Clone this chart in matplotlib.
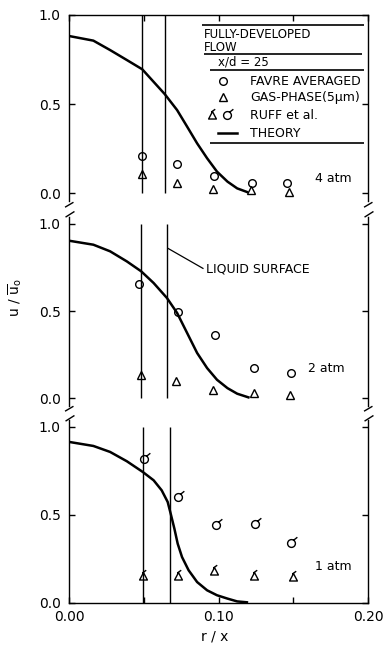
import matplotlib
matplotlib.use("Agg")
import matplotlib.pyplot as plt
from matplotlib.path import Path

# ---- data (r/x vs u/u0) ----
panel_labels = ["4 atm", "2 atm", "1 atm"]

# 4 atm
top_favre_r = [0.0486, 0.0725, 0.0972, 0.1226, 0.146]
top_favre_u = [0.21, 0.161, 0.097, 0.058, 0.054]
top_gas_r = [0.0486, 0.072, 0.0966, 0.122, 0.147]
top_gas_u = [0.107, 0.054, 0.020, 0.017, 0.007]
top_theory_r = [0.0, 0.0163, 0.0275, 0.0387, 0.049, 0.064, 0.0723, 0.079,
                0.0857, 0.0924, 0.099, 0.106, 0.1125, 0.119]
top_theory_u = [0.882, 0.856, 0.803, 0.747, 0.695, 0.556, 0.466, 0.373,
                0.279, 0.195, 0.12, 0.064, 0.026, 0.006]
top_surface_r = [0.0487, 0.064]

# 2 atm
mid_favre_r = [0.0468, 0.0731, 0.0977, 0.1237, 0.1485]
mid_favre_u = [0.657, 0.493, 0.364, 0.171, 0.142]
mid_gas_r = [0.048, 0.0713, 0.0966, 0.124, 0.148]
mid_gas_u = [0.134, 0.096, 0.048, 0.031, 0.017]
mid_theory_r = [0.0, 0.0163, 0.0275, 0.0387, 0.0483, 0.0566, 0.0655, 0.0723,
                0.079, 0.0857, 0.0924, 0.099, 0.106, 0.1125, 0.12]
mid_theory_u = [0.904, 0.881, 0.843, 0.785, 0.728, 0.661, 0.575, 0.489,
                0.374, 0.259, 0.172, 0.105, 0.057, 0.025, 0.004]
mid_surface_r = [0.0483, 0.0655]

# 1 atm (Ruff et al.)
bot_ruff_liq_r = [0.0502, 0.0731, 0.0983, 0.1244, 0.1485]
bot_ruff_liq_u = [0.816, 0.602, 0.441, 0.449, 0.343]
bot_ruff_gas_r = [0.0497, 0.0731, 0.097, 0.1237, 0.1496]
bot_ruff_gas_u = [0.153, 0.153, 0.18, 0.153, 0.15]
bot_theory_r = [0.0, 0.0163, 0.0275, 0.0387, 0.0494, 0.0566, 0.062, 0.066,
                0.068, 0.0705, 0.0727, 0.0756, 0.080, 0.0857, 0.0924, 0.099,
                0.106, 0.1125, 0.119]
bot_theory_u = [0.915, 0.892, 0.858, 0.805, 0.744, 0.697, 0.64, 0.574,
                0.508, 0.422, 0.337, 0.261, 0.186, 0.119, 0.072, 0.044,
                0.025, 0.009, 0.004]
bot_surface_r = [0.0494, 0.0678]

legend_title = ["FULLY-DEVELOPED", "FLOW"]
legend_station = "x/d = 25"
legend_entries = ["FAVRE AVERAGED", "GAS-PHASE(5\u03bcm)", "RUFF et al.", "THEORY"]

# ---- markers for Ruff et al. (symbol with a flag) ----
circ = Path.unit_circle()
ruff_circle = Path.make_compound_path(circ, Path([[0.55, 0.85], [1.5, 1.6]]))
tri = Path([[0, 1], [-1, -0.9], [1, -0.9], [0, 1]],
           [Path.MOVETO, Path.LINETO, Path.LINETO, Path.CLOSEPOLY])
ruff_tri = Path.make_compound_path(tri, Path([[-0.3, 0.9], [0.7, 1.6]]))
brk = Path([[-4.5, 2.3], [4, 7.3], [-4, -7.7], [5, -2]],
           [Path.MOVETO, Path.LINETO, Path.MOVETO, Path.LINETO])

W, H = 384, 652
fig = plt.figure(figsize=(W / 100, H / 100), dpi=100)
plt.rcParams['font.family'] = ['DejaVu Sans']

x0, x1 = 69, 368


def add_panel(top_px, bot_px):
    return fig.add_axes([x0 / W, 1 - bot_px / H, (x1 - x0) / W, (bot_px - top_px) / H])


ax_top = add_panel(15, 208.5)
ax_mid = add_panel(208.5, 412.5)
ax_bot = add_panel(412.5, 603)
ax_top.set_ylim(-0.087, 1.0)
ax_mid.set_ylim(-0.083, 1.089)
ax_bot.set_ylim(0, 1.082)

mk = dict(ls='none', mfc='none', mec='black', mew=1.0, color='black')

for ax in (ax_top, ax_mid, ax_bot):
    ax.set_xlim(0, 0.2)
    ax.set_facecolor('none')
    ax.set_yticks([0, 0.5, 1.0])
    ax.set_yticklabels(['0.0', '0.5', '1.0'])
    ax.tick_params(axis='y', direction='in', length=4.5, width=1, right=True,
                   labelsize=10, pad=6)
    for s in ax.spines.values():
        s.set_linewidth(1.0)

# spines / ticks per panel
ax_top.spines['bottom'].set_visible(False)
ax_top.spines['left'].set_bounds(-0.045, 1.0)
ax_top.spines['right'].set_bounds(-0.045, 1.0)
ax_top.tick_params(axis='x', which='both', direction='in', top=True, bottom=False,
                   labelbottom=False, length=4.5, width=1)
ax_top.set_xticks([0, 0.1, 0.2])
ax_top.set_xticks([0.05, 0.15], minor=True)

ax_mid.spines['top'].set_visible(False)
ax_mid.spines['bottom'].set_visible(False)
ax_mid.spines['left'].set_bounds(-0.045, 1.04)
ax_mid.spines['right'].set_bounds(-0.045, 1.04)
ax_mid.tick_params(axis='x', which='both', bottom=False, labelbottom=False)

ax_bot.spines['top'].set_visible(False)
ax_bot.spines['left'].set_bounds(0, 1.04)
ax_bot.spines['right'].set_bounds(0, 1.04)
ax_bot.set_xticks([0, 0.1, 0.2])
ax_bot.set_xticklabels(['0.00', '0.10', '0.20'])
ax_bot.set_xticks([0.05, 0.15], minor=True)
ax_bot.tick_params(axis='x', which='both', direction='in', length=4.5, width=1,
                   labelsize=10, pad=5)

# axis breaks
for ax in (ax_top, ax_mid):
    ax.plot([0, 1], [0, 0], transform=ax.transAxes, ls='none', marker=brk,
            ms=11, mew=1.0, color='black', clip_on=False)

# ---- 4 atm ----
ax_top.vlines(top_surface_r, 0, 1.0, color='black', lw=1.0)
ax_top.plot(top_theory_r, top_theory_u, color='black', lw=1.8)
ax_top.plot(top_favre_r, top_favre_u, marker='o', ms=5.5, **mk)
ax_top.plot(top_gas_r, top_gas_u, marker='^', ms=5.5, **mk)
ax_top.text(0.1645, 0.084, panel_labels[0], fontsize=9, va='center')

# ---- 2 atm ----
ax_mid.vlines(mid_surface_r, 0, 1.0, color='black', lw=1.0)
ax_mid.plot(mid_theory_r, mid_theory_u, color='black', lw=1.8)
ax_mid.plot(mid_favre_r, mid_favre_u, marker='o', ms=5.5, **mk)
ax_mid.plot(mid_gas_r, mid_gas_u, marker='^', ms=5.5, **mk)
ax_mid.text(0.160, 0.167, panel_labels[1], fontsize=9, va='center')
ax_mid.plot([0.0664, 0.0896], [0.859, 0.745], color='black', lw=0.9)
ax_mid.text(0.0915, 0.741, "LIQUID SURFACE", fontsize=9, va='center')

# ---- 1 atm ----
ax_bot.vlines(bot_surface_r, 0, 1.0, color='black', lw=1.0)
ax_bot.plot(bot_theory_r, bot_theory_u, color='black', lw=1.8)
ax_bot.plot(bot_ruff_liq_r, bot_ruff_liq_u, marker=ruff_circle, ms=9, **mk)
ax_bot.plot(bot_ruff_gas_r, bot_ruff_gas_u, marker=ruff_tri, ms=9, **mk)
ax_bot.text(0.1645, 0.21, panel_labels[2], fontsize=9, va='center')

# ---- legend box (top panel) ----
ax_top.hlines(0.944, 0.089, 0.197, color='black', lw=1.2)
ax_top.text(0.0905, 0.89, legend_title[0], fontsize=8.5, va='center')
ax_top.text(0.0905, 0.818, legend_title[1], fontsize=8.5, va='center')
ax_top.hlines(0.782, 0.0905, 0.196, color='black', lw=1.2)
ax_top.text(0.0997, 0.734, legend_station, fontsize=8.5, va='center')
ax_top.hlines(0.691, 0.094, 0.197, color='black', lw=1.2)
ax_top.plot([0.103], [0.629], marker='o', ms=5.5, **mk)
ax_top.plot([0.103], [0.538], marker='^', ms=5.5, **mk)
ax_top.plot([0.0957], [0.438], marker=ruff_tri, ms=9, **mk)
ax_top.plot([0.1057], [0.438], marker=ruff_circle, ms=9, **mk)
ax_top.plot([0.0997, 0.1124], [0.335, 0.335], color='black', lw=1.8)
for txt, yy in zip(legend_entries, [0.629, 0.538, 0.438, 0.335]):
    ax_top.text(0.121, yy, txt, fontsize=9, va='center')
ax_top.hlines(0.279, 0.094, 0.197, color='black', lw=1.2)

# axis labels
fig.text(15 / W, 1 - 298 / H, r'u / $\overline{\mathrm{u}}_{\mathrm{o}}$',
         rotation=90, ha='center', va='center', fontsize=10)
fig.text(215 / W, 1 - 637 / H, 'r / x', ha='center', va='center', fontsize=10)

fig.savefig('out.png', dpi=100)
